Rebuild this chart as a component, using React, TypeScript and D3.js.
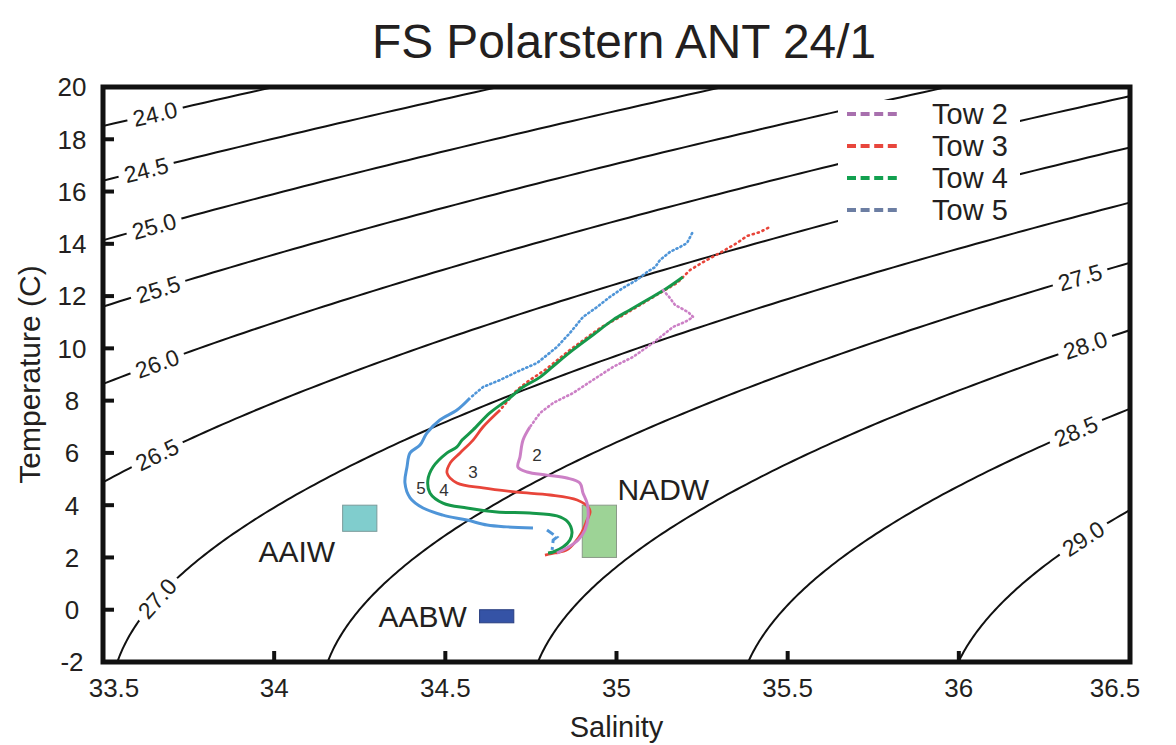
import React from 'react';
import * as d3 from 'd3';

// ---------- data ----------
const salinityTicks = [33.5, 34, 34.5, 35, 35.5, 36, 36.5];
const temperatureTicks = [-2, 0, 2, 4, 6, 8, 10, 12, 14, 16, 18, 20];

const sigmaLevels = [24.0, 24.5, 25.0, 25.5, 26.0, 26.5, 27.0, 27.5, 28.0, 28.5, 29.0];
// salinity at which each isopycnal label is centred
const sigmaLabelSalinity = [33.652, 33.626, 33.649, 33.661, 33.658, 33.658, 33.658, 36.354, 36.369, 36.342, 36.363];

// Tow 2 (pink)
const tow2Scatter: [number, number][] = [
  [35.136, 12.23], [35.156, 11.93], [35.171, 11.66], [35.209, 11.39], [35.224, 11.2], [35.2, 11.01],
  [35.165, 10.82], [35.107, 10.21], [35.048, 9.67], [34.99, 9.29], [34.931, 8.79], [34.873, 8.29],
  [34.815, 7.91], [34.777, 7.53], [34.747, 6.99],
];
const tow2Trace: [number, number][] = [
  [34.747, 6.99], [34.727, 6.49], [34.718, 5.84], [34.712, 5.46], [34.739, 5.27], [34.797, 5.15],
  [34.855, 5.04], [34.893, 4.85], [34.902, 4.47], [34.914, 4.08], [34.917, 3.55], [34.908, 3.05],
  [34.888, 2.67], [34.855, 2.36], [34.826, 2.17],
];
// Tow 3 (red)
const tow3Scatter: [number, number][] = [
  [35.443, 14.61], [35.419, 14.45], [35.381, 14.3], [35.352, 14.03], [35.302, 13.65], [35.253, 13.3],
  [35.215, 13.0], [35.177, 12.5], [35.127, 12.12], [35.069, 11.66], [35.01, 11.2], [34.952, 10.78],
  [34.864, 9.94], [34.791, 9.17], [34.747, 8.79], [34.709, 8.41], [34.66, 7.64],
];
const tow3Trace: [number, number][] = [
  [34.66, 7.64], [34.61, 6.99], [34.581, 6.49], [34.543, 6.0], [34.514, 5.61], [34.505, 5.23],
  [34.534, 4.85], [34.61, 4.66], [34.709, 4.5], [34.806, 4.39], [34.885, 4.2], [34.917, 3.93],
  [34.923, 3.74], [34.914, 3.43], [34.899, 2.97], [34.879, 2.59], [34.855, 2.29], [34.82, 2.17], [34.791, 2.09],
];
// Tow 4 (green)
const tow4Trace: [number, number][] = [
  [35.194, 12.73], [35.148, 12.31], [35.089, 11.85], [35.039, 11.47], [34.99, 11.09], [34.931, 10.51],
  [34.873, 9.94], [34.826, 9.44], [34.777, 8.9], [34.727, 8.52], [34.68, 8.02], [34.63, 7.53],
  [34.581, 6.88], [34.549, 6.49], [34.534, 6.23], [34.505, 6.0], [34.464, 5.46], [34.449, 4.96],
  [34.455, 4.47], [34.493, 4.08], [34.563, 3.89], [34.651, 3.74], [34.747, 3.7], [34.826, 3.59],
  [34.858, 3.36], [34.87, 2.97], [34.864, 2.67], [34.844, 2.4], [34.815, 2.21], [34.8, 2.17],
];
// Tow 5 (blue)
const tow5Scatter: [number, number][] = [
  [35.221, 14.41], [35.206, 14.03], [35.186, 13.88], [35.156, 13.69], [35.127, 13.38], [35.113, 13.11],
  [35.089, 12.92], [35.06, 12.62], [35.019, 12.31], [34.981, 11.97], [34.943, 11.58], [34.902, 11.2],
  [34.864, 10.59], [34.826, 10.05], [34.768, 9.44], [34.709, 9.1], [34.66, 8.79], [34.61, 8.52],
  [34.572, 8.1],
];
const tow5Trace: [number, number][] = [
  [34.572, 8.1], [34.534, 7.64], [34.484, 7.26], [34.446, 6.76], [34.426, 6.3], [34.397, 6.0],
  [34.388, 5.46], [34.382, 4.85], [34.397, 4.28], [34.435, 3.89], [34.493, 3.62], [34.563, 3.43],
  [34.622, 3.24], [34.68, 3.17], [34.756, 3.13],
];
const tow5Fragment: [number, number][] = [[34.797, 3.05], [34.826, 2.78], [34.815, 2.67], [34.812, 2.29]];

const towNames = ['Tow 2', 'Tow 3', 'Tow 4', 'Tow 5'];
const towTagText = ['2', '3', '4', '5'];
const towTagS = [34.768, 34.581, 34.496, 34.429];
const towTagT = [5.92, 5.27, 4.58, 4.66];

// water masses: boxes [S0,S1,T0,T1] and label anchors
const massNames = ['AAIW', 'NADW', 'AABW'];
const massS0 = [34.2, 34.9, 34.6];
const massS1 = [34.3, 35.0, 34.7];
const massT0 = [3.0, 2.0, -0.5];
const massT1 = [4.0, 4.0, 0.0];
const massLabelS = [34.178, 35.003, 34.563];
const massLabelT = [1.83, 4.2, -0.66];
const massLabelAnchor = ['end', 'start', 'end'];

// ---------- styles ----------
const FONT = "'Liberation Sans', Arial, Helvetica, sans-serif";
const towLineColors = ['#cc80c6', '#e8453a', '#16984a', '#4f95d8'];
const legendColors = ['#a870ae', '#e8463c', '#12a04f', '#6c7ea3'];
const massFill = ['#80cdcd', '#9dd396', '#3553a6'];
const massStroke = ['#7a9a9a', '#8a9a88', '#2a3f80'];

// UNESCO EOS-80 density anomaly at atmospheric pressure
function sigmaT(S: number, T: number) {
  const rw = 999.842594 + 6.793952e-2 * T - 9.09529e-3 * T * T + 1.001685e-4 * T ** 3 - 1.120083e-6 * T ** 4 + 6.536332e-9 * T ** 5;
  const A = 8.24493e-1 - 4.0899e-3 * T + 7.6438e-5 * T * T - 8.2467e-7 * T ** 3 + 5.3875e-9 * T ** 4;
  const B = -5.72466e-3 + 1.0227e-4 * T - 1.6546e-6 * T * T;
  const C = 4.8314e-4;
  return rw + A * S + B * Math.pow(S, 1.5) + C * S * S - 1000;
}
function solveS(sig: number, T: number) {
  let lo = 20, hi = 45;
  for (let i = 0; i < 60; i++) {
    const m = (lo + hi) / 2;
    if (sigmaT(m, T) < sig) lo = m; else hi = m;
  }
  return (lo + hi) / 2;
}
function solveT(sig: number, S: number) {
  let lo = -5, hi = 40;
  for (let i = 0; i < 60; i++) {
    const m = (lo + hi) / 2;
    if (sigmaT(S, m) > sig) lo = m; else hi = m;
  }
  return (lo + hi) / 2;
}

export default function App() {
  const W = 1176, H = 745;
  const L = 103, R = 1130, Tp = 87, B = 662;
  const x = d3.scaleLinear().domain([33.5, 36.5]).range([L, R]);
  const y = d3.scaleLinear().domain([-2, 20]).range([B, Tp]);

  const line = d3.line<[number, number]>().x(d => x(d[0])).y(d => y(d[1]));
  const smooth = d3.line<[number, number]>().x(d => x(d[0])).y(d => y(d[1])).curve(d3.curveCatmullRom.alpha(0.5));

  const tGrid = d3.range(-3, 22.01, 0.1);
  const contours = sigmaLevels.map(lv => tGrid.map(t => [solveS(lv, t), t] as [number, number]));

  const labels = sigmaLevels.map((lv, i) => {
    const s = sigmaLabelSalinity[i];
    const t = solveT(lv, s);
    const ds = 0.01;
    const dx = x(s + ds) - x(s - ds);
    const dy = y(solveT(lv, s + ds)) - y(solveT(lv, s - ds));
    const ang = (Math.atan2(dy, dx) * 180) / Math.PI;
    return { lv, px: x(s), py: y(t), ang };
  });

  const fs = 23;
  const lblW = 1.946 * fs + 12;

  const legendY = [114, 146, 178, 210];

  return (
    <svg width={W} height={H} style={{ position: 'absolute', left: 0, top: 0, background: '#fff' }} fontFamily={FONT}>
      <defs>
        <clipPath id="plot"><rect x={L} y={Tp} width={R - L} height={B - Tp} /></clipPath>
      </defs>
      <rect x={0} y={0} width={W} height={H} fill="#fff" />
      <text x={372} y={58} fontSize={48} fill="#231f20" textLength={504} lengthAdjust="spacingAndGlyphs">FS Polarstern ANT 24/1</text>

      <g clipPath="url(#plot)">
        {contours.map((c, i) => (
          <path key={i} d={line(c) || ''} fill="none" stroke="#111" strokeWidth={2} />
        ))}
        {labels.map((l, i) => (
          <g key={i} transform={`translate(${l.px},${l.py}) rotate(${l.ang})`}>
            <rect x={-lblW / 2} y={-11} width={lblW} height={22} fill="#fff" />
            <text x={0} y={0} dy="0.36em" textAnchor="middle" fontSize={fs} fill="#231f20">{l.lv.toFixed(1)}</text>
          </g>
        ))}
        {/* legend background */}
        <rect x={838} y={100} width={182} height={126} fill="#fff" />

        {/* water mass boxes */}
        {massNames.map((n, i) => (
          <rect key={n} x={x(massS0[i])} y={y(massT1[i])} width={x(massS1[i]) - x(massS0[i])} height={y(massT0[i]) - y(massT1[i])}
            fill={massFill[i]} stroke={massStroke[i]} strokeWidth={1} />
        ))}

        {/* tows */}
        <path d={line(tow5Scatter) || ''} fill="none" stroke={towLineColors[3]} strokeWidth={2.6} strokeDasharray="1.2 3.2" strokeLinecap="round" />
        <path d={smooth(tow5Trace) || ''} fill="none" stroke={towLineColors[3]} strokeWidth={3} strokeLinejoin="round" />
        <path d={line(tow5Fragment) || ''} fill="none" stroke={towLineColors[3]} strokeWidth={3} strokeDasharray="8 4" />

        <path d={line(tow3Scatter) || ''} fill="none" stroke={towLineColors[1]} strokeWidth={2.6} strokeDasharray="1.2 4" strokeLinecap="round" />
        <path d={smooth(tow3Trace) || ''} fill="none" stroke={towLineColors[1]} strokeWidth={2.8} strokeLinejoin="round" />

        <path d={smooth(tow4Trace) || ''} fill="none" stroke={towLineColors[2]} strokeWidth={3} strokeLinejoin="round" />

        <path d={line(tow2Scatter) || ''} fill="none" stroke={towLineColors[0]} strokeWidth={2.6} strokeDasharray="1.2 3.2" strokeLinecap="round" />
        <path d={smooth(tow2Trace) || ''} fill="none" stroke={towLineColors[0]} strokeWidth={3} strokeLinejoin="round" />

        {towTagText.map((t, i) => (
          <text key={t} x={x(towTagS[i])} y={y(towTagT[i])} dy="0.36em" textAnchor="middle" fontSize={17} fill="#333">{t}</text>
        ))}
      </g>

      {massNames.map((n, i) => (
        <text key={n} x={x(massLabelS[i])} y={y(massLabelT[i])} textAnchor={massLabelAnchor[i] as any} fontSize={30} fill="#231f20">{n}</text>
      ))}

      {/* legend */}
      {towNames.map((n, i) => (
        <g key={n}>
          <line x1={847} x2={897} y1={legendY[i]} y2={legendY[i]} stroke={legendColors[i]} strokeWidth={4} strokeDasharray="9 4.6" />
          <text x={932} y={legendY[i]} dy="0.36em" fontSize={29} fill="#231f20">{n}</text>
        </g>
      ))}

      {/* ticks */}
      {temperatureTicks.map(t => (
        <g key={t}>
          <line x1={L} x2={L + 11} y1={y(t)} y2={y(t)} stroke="#111" strokeWidth={4} />
          <text x={72} y={y(t)} dy="0.36em" textAnchor="middle" fontSize={26} fill="#231f20">{t}</text>
        </g>
      ))}
      {salinityTicks.map(s => (
        <g key={s}>
          <line x1={x(s)} x2={x(s)} y1={B} y2={B - 11} stroke="#111" strokeWidth={4} />
          <text x={Math.min(Math.max(x(s), 114), 1115)} y={697} textAnchor="middle" fontSize={26} fill="#231f20">{s}</text>
        </g>
      ))}
      <rect x={L} y={Tp} width={R - L} height={B - Tp} fill="none" stroke="#111" strokeWidth={5} />

      <text transform={`translate(40,${(Tp + B) / 2}) rotate(-90)`} textAnchor="middle" fontSize={30} fill="#231f20">Temperature (C)</text>
      <text x={(L + R) / 2} y={737} textAnchor="middle" fontSize={29} fill="#231f20">Salinity</text>
    </svg>
  );
}
